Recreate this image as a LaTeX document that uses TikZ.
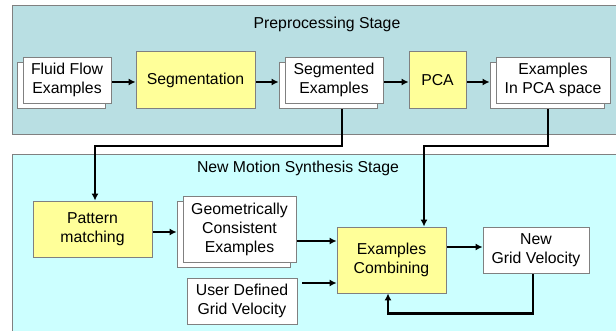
\documentclass[tikz,border=0pt]{standalone}
\usepackage{fontspec}
\setmainfont{Liberation Sans}
\usetikzlibrary{arrows.meta,shadows}
\definecolor{prebg}{RGB}{185,223,227}
\definecolor{synbg}{RGB}{204,255,255}
\definecolor{procfill}{RGB}{255,255,153}
\definecolor{edgegray}{RGB}{128,128,128}
\pgfdeclarelayer{panels}
\pgfdeclarelayer{wires}
\pgfsetlayers{panels,wires,main}
\tikzset{
  every node/.style={font=\fontsize{15.8}{19}\selectfont, align=center, inner sep=0pt},
  panel/.style={draw=edgegray, line width=0.8pt},
  procbox/.style={draw=edgegray, line width=0.8pt, fill=procfill},
  databox/.style={draw=edgegray, line width=0.8pt, fill=white},
  stackbox/.style={databox, copy shadow={shadow xshift=-6pt, shadow yshift=-5pt, fill=white, draw=edgegray, line width=0.8pt}},
  arr/.style={line width=2.2pt, -{Latex[length=7pt,width=7pt]}},
  title/.style={font=\fontsize{15.8}{19}\selectfont}
}
\begin{document}
\begin{tikzpicture}[x=1pt,y=-1pt]
\useasboundingbox (0,0) rectangle (616,331);
% titles
\node[title] (pretitle) at (327,24) {Preprocessing Stage};
\node[title] (syntitle) at (298,168) {New Motion Synthesis Stage};
% preprocessing nodes
\node[stackbox, minimum width=88pt, minimum height=46pt] (fluid) at (67,80) {Fluid Flow\\Examples};
\node[procbox, minimum width=119pt, minimum height=57pt] (seg) at (195.5,80) {Segmentation};
\node[stackbox, minimum width=98pt, minimum height=46pt] (segd) at (334,80) {Segmented\\Examples};
\node[procbox, minimum width=57pt, minimum height=57pt] (pca) at (437.5,80) {PCA};
\node[stackbox, minimum width=114pt, minimum height=46pt] (expca) at (553,80) {Examples\\In PCA space};
% synthesis nodes
\node[procbox, minimum width=119pt, minimum height=56pt] (pat) at (92.5,229) {Pattern\\matching};
\node[stackbox, minimum width=113pt, minimum height=66pt] (geo) at (239.5,229) {Geometrically\\Consistent\\Examples};
\node[databox, minimum width=110pt, minimum height=46pt] (user) at (242,301) {User Defined\\Grid Velocity};
\node[procbox, minimum width=109pt, minimum height=66pt] (comb) at (391.5,260) {Examples\\Combining};
\node[databox, minimum width=106pt, minimum height=46pt] (new) at (536,250) {New\\Grid Velocity};
% panels
\begin{pgfonlayer}{panels}
\fill[white] (0,0) rectangle (616,331);
\draw[panel, fill=prebg] (12,5) rectangle (618,134);
\draw[panel, fill=synbg] (12,154) rectangle (618,336);
\end{pgfonlayer}
% connectors
\begin{pgfonlayer}{wires}
\draw[arr] ([yshift=-2pt]fluid.east) -- ([yshift=-2pt]seg.west);
\draw[arr] ([yshift=-2pt]seg.east) -- ([xshift=-6pt,yshift=-2pt]segd.west);
\draw[arr] ([yshift=-2pt]segd.east) -- ([yshift=-2pt]pca.west);
\draw[arr] ([yshift=-2pt]pca.east) -- ([xshift=-6pt,yshift=-2pt]expca.west);
\draw[arr] ([xshift=8pt]segd.south) -- ++(0,43) -| ([xshift=2.5pt]pat.north);
\draw[arr] ([xshift=-5pt]expca.south) -- ++(0,43) -| ([xshift=32.5pt]comb.north);
\draw[arr] ([yshift=-3pt]pat.east) -- ([xshift=-6pt,yshift=-3pt]geo.west);
\draw[arr] ([yshift=-12pt]geo.east) -- ([yshift=19pt]comb.west);
\draw[arr] ([xshift=5pt,yshift=18pt]user.east) -- ([yshift=-23pt]comb.west);
\draw[arr] ([yshift=13pt]comb.east) -- ([yshift=3pt]new.west);
\draw[arr] ([xshift=-3pt]new.south) -- ++(0,40) -| ([xshift=-3.5pt]comb.south);
\end{pgfonlayer}
\end{tikzpicture}
\end{document}
